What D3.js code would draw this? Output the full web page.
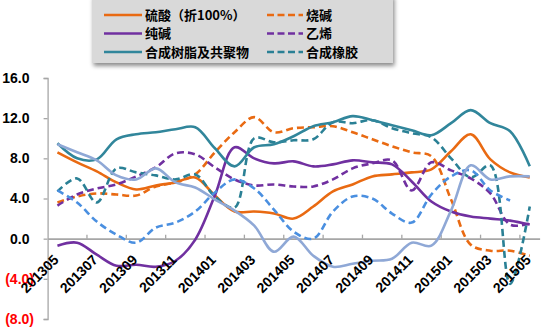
<!DOCTYPE html>
<html><head><meta charset="utf-8">
<script src="https://cdn.jsdelivr.net/npm/d3@7"></script>
<style>
html,body{margin:0;padding:0;background:#fff;}
svg{display:block;}
</style></head>
<body>
<svg id="chart" width="552" height="331"></svg>
<script>
const categories = ["201305","201306","201307","201308","201309","201310","201311","201312","201401","201402","201403","201404","201405","201406","201407","201408","201409","201410","201411","201412","201501","201502","201503","201504","201505"];
const yTicks = [-8,-4,0,4,8,12,16];

const sulfuricAcid = [8.6,7.6,6.7,5.6,4.9,5.3,5.6,6.1,4.3,2.7,2.7,2.5,2.0,3.2,4.7,5.4,6.2,6.4,6.6,6.9,8.7,10.4,7.9,6.6,6.1];
const causticSoda  = [3.6,4.2,4.5,4.4,4.3,5.2,5.6,6.4,8.6,10.6,12.1,10.6,11.0,11.1,11.2,10.6,9.9,9.2,8.6,8.2,3.9,-0.6,-1.2,-1.2,-1.7];
const sodaAsh      = [-0.7,-0.4,-1.6,-2.7,-2.6,-2.8,-2.2,-0.1,4.3,9.1,8.0,7.5,7.7,7.2,7.4,7.8,7.6,7.4,5.7,3.7,2.7,2.2,2.0,1.8,1.4];
const ethylene     = [3.3,4.4,5.0,5.4,6.2,7.1,8.5,8.4,7.1,5.9,5.3,5.4,5.2,5.2,5.9,7.0,7.5,7.8,4.8,7.6,6.8,6.0,4.5,1.4,1.5];
const resin        = [9.5,8.0,7.9,9.9,10.4,10.6,10.9,11.1,9.0,7.2,9.1,9.4,10.2,11.2,11.6,12.2,11.8,11.3,10.8,10.3,11.5,12.8,11.5,10.7,7.2];
const rubber       = [4.7,6.0,3.6,7.0,6.6,6.3,5.9,6.4,4.2,3.1,10.0,9.6,9.8,9.9,11.6,11.5,11.8,11.0,10.5,10.1,8.0,6.1,7.3,-4.5,3.2];
const seriesG      = [9.4,8.6,7.8,6.3,5.9,7.0,5.6,5.1,3.9,2.8,1.3,-1.3,0.2,-1.7,-2.8,-2.5,-2.2,-2.0,-0.4,-0.7,2.8,7.3,5.9,6.2,6.2];
const seriesH      = [4.8,3.6,1.7,0.4,-0.4,1.1,1.6,2.7,4.6,5.9,5.0,2.9,0.7,0.0,2.7,4.2,4.0,2.5,1.6,4.4,6.2,6.8,4.8,3.8,null];

const seriesNames  = ["硫酸（折100%）","烧碱","纯碱","乙烯","合成树脂及共聚物","合成橡胶","",""];
const seriesData   = [sulfuricAcid,causticSoda,sodaAsh,ethylene,resin,rubber,seriesG,seriesH];
const seriesColors = ["#E96A12","#E96A12","#7030A0","#7030A0","#31869B","#2A8095","#8FA8D6","#4A8FE0"];
const seriesDashed = [false,true,false,true,false,true,false,true];

const svg = d3.select("#chart");
const defs = svg.append("defs");
const f = defs.append("filter").attr("id","sh").attr("x","-5%").attr("y","-10%").attr("width","115%").attr("height","140%");
f.append("feDropShadow").attr("dx",1.5).attr("dy",3).attr("stdDeviation",2).attr("flood-color","#000").attr("flood-opacity",0.45);

const x = d3.scaleBand().domain(categories).range([47.6,539.6]);
const y = d3.scaleLinear().domain([-8,16]).range([319,78]);
const cx = c => x(c) + x.bandwidth()/2;

const axisColor = "#A6A6A6";
// y axis
const yAxis = d3.axisLeft(y).tickValues(yTicks).tickSize(4).tickFormat("");
const ya = svg.append("g").attr("transform","translate(47.6,0)").call(yAxis);
ya.select(".domain").attr("stroke",axisColor).attr("stroke-width",1.3);
ya.selectAll(".tick line").attr("stroke",axisColor).attr("stroke-width",1.3);

svg.append("g").selectAll("text").data(yTicks).join("text")
  .attr("x", d => d < 0 ? 34 : 29.5)
  .attr("y", d => y(d))
  .attr("dy","0.35em")
  .attr("text-anchor","end")
  .attr("font-family","Liberation Sans, Arial, sans-serif")
  .attr("font-weight","bold")
  .attr("font-size",14)
  .attr("fill", d => d < 0 ? "#FF0000" : "#000")
  .text(d => d < 0 ? "(" + d3.format(".1f")(-d) + ")" : d3.format(".1f")(d));

// x axis at zero
const tickCats = categories.filter((c,i)=>i%2===0);
const xa = svg.append("g").attr("transform",`translate(0,${y(0)})`)
  .call(d3.axisTop(x).tickValues([]).tickSizeOuter(0));
xa.select(".domain").attr("stroke",axisColor).attr("stroke-width",1.8);
svg.append("g").selectAll("line").data(tickCats.slice(1)).join("line")
  .attr("x1", c => x(c)).attr("x2", c => x(c))
  .attr("y1", y(0)).attr("y2", y(0)-4)
  .attr("stroke",axisColor).attr("stroke-width",1.3);

// lines
const line = d3.line()
  .defined(d => d.v !== null)
  .x(d => cx(d.c)).y(d => y(d.v))
  .curve(d3.curveCatmullRom.alpha(0.5));

const order = [1,0,3,2,5,4,7,6];
svg.append("g").selectAll("path").data(order).join("path")
  .attr("d", i => line(seriesData[i].map((v,k)=>({c:categories[k],v}))))
  .attr("fill","none")
  .attr("stroke", i => seriesColors[i])
  .attr("stroke-width", 2.6)
  .attr("stroke-dasharray", i => seriesDashed[i] ? "7,4" : null)
  .attr("stroke-linejoin","round");

// x labels
svg.append("g").selectAll("text").data(tickCats).join("text")
  .attr("transform", c => `translate(${cx(c)+2},${y(0)+22}) rotate(-45)`)
  .attr("text-anchor","end")
  .attr("font-family","Liberation Sans, Arial, sans-serif")
  .attr("font-weight","bold")
  .attr("font-size",14)
  .attr("fill","#000")
  .text(c => c);

// legend
const lg = svg.append("g");
lg.append("rect").attr("x",92).attr("y",-5).attr("width",301).attr("height",68)
  .attr("fill","#D9D9D9").attr("filter","url(#sh)");
const legendRows = [15,33.5,52];
seriesNames.slice(0,6).forEach((name,i)=>{
  const col = i%2, row = Math.floor(i/2);
  const x0 = col===0 ? 104 : 267;
  const x1 = col===0 ? 142 : 303;
  const yy = legendRows[row];
  lg.append("line").attr("x1",x0).attr("x2",x1).attr("y1",yy).attr("y2",yy)
    .attr("stroke",seriesColors[i]).attr("stroke-width",2.6)
    .attr("stroke-dasharray",seriesDashed[i] ? "7,3.5" : null);
  lg.append("text").attr("x",x1+3).attr("y",yy).attr("dy","0.36em")
    .attr("font-family","Noto Sans CJK SC, sans-serif").attr("font-weight","bold")
    .attr("font-size",13).attr("fill","#000").text(name);
});
</script>
</body></html>
